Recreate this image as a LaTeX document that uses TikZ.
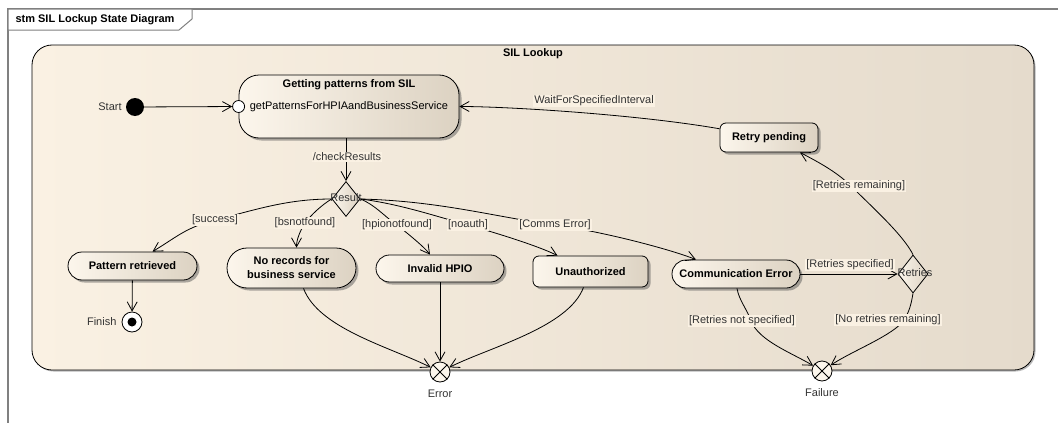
\documentclass[tikz,border=0pt]{standalone}
\usepackage{fontspec}
\setmainfont{Liberation Sans}
\usetikzlibrary{arrows.meta,shapes.geometric,shadows,positioning}
\definecolor{hglinks}{HTML}{FAF1E3}
\definecolor{hgrechts}{HTML}{E5DBCC}
\definecolor{zlinks}{HTML}{FCF6EC}
\definecolor{zrechts}{HTML}{DCD2C2}
\definecolor{rahmengrau}{HTML}{808080}
\definecolor{textgrau}{HTML}{333333}

\begin{document}
\begin{tikzpicture}[x=1pt, y=-1pt,
    font=\fontsize{11}{13}\selectfont,
    schatten/.style={drop shadow={shadow xshift=2.5pt, shadow yshift=-2.5pt, opacity=0.45, fill=black!70}},
    zustand/.style={draw, line width=0.8pt, rounded corners=#1, left color=zlinks, right color=zrechts, schatten, inner sep=0pt, font=\fontsize{11}{14}\selectfont\bfseries, align=center},
    weiche/.style={draw, diamond, line width=0.8pt, inner sep=0pt, left color=zlinks, right color=zrechts},
    austritt/.style={draw, circle, line width=0.8pt, fill=zlinks, minimum size=20pt, inner sep=0pt},
    uebergang/.style={line width=0.8pt, -{Straight Barb[length=9pt, width=10pt]}},
    bedingung/.style={fill=hglinks, inner sep=1pt, text=textgrau},
    beschriftung/.style={inner sep=1pt, text=textgrau}]
	\useasboundingbox (0,0) rectangle (1058,423); % Rand wie Vorlage

	% Rahmen mit Reiter
	\draw[rahmengrau, line width=1.2pt] (8,423) -- (8,9) -- (1058,9);
	\draw[rahmengrau, line width=1pt, fill=white] (8,9) -- (192,9) -- (192,19) -- (179,30) -- (8,30) -- cycle;
	\node[font=\fontsize{11}{13}\selectfont\bfseries, inner sep=0pt] (titel) at (95,19.5) {stm SIL Lockup State Diagram};

	% zusammengesetzter Zustand
	\node[draw, line width=0.8pt, rounded corners=20pt, left color=hglinks, right color=hgrechts,
	      drop shadow={shadow xshift=1.5pt, shadow yshift=-1.5pt, opacity=0.4, fill=black!70},
	      minimum width=1002pt, minimum height=325pt] (lookup) at (533,207.5) {};
	\node[font=\fontsize{11}{13}\selectfont\bfseries, inner sep=0pt, below=4pt of lookup.north] (lookuptitel) {SIL Lookup};

	% Zustaende
	\node[zustand=20pt, minimum width=220pt, minimum height=63pt] (getpat) at (349,106.5) {};
	\node[font=\fontsize{11}{13}\selectfont\bfseries, inner sep=0pt, below=5pt of getpat.north] (getpattitel) {Getting patterns from SIL};
	\node[anchor=west, inner sep=0pt] (getpatop) at ([xshift=11pt]getpat.west) {getPatternsForHPIAandBusinessService};
	\node[zustand=6pt, minimum width=98pt, minimum height=29pt] (retry) at (769,137.5) {Retry pending};
	\node[zustand=14pt, minimum width=129pt, minimum height=28pt] (pattern) at (132.5,266) {Pattern retrieved};
	\node[zustand=20pt, minimum width=129pt, minimum height=40pt] (norec) at (291.5,268) {No records for\\business service};
	\node[zustand=13.5pt, minimum width=128pt, minimum height=27pt] (hpio) at (440,268.5) {Invalid HPIO};
	\node[zustand=6pt, minimum width=115pt, minimum height=31pt] (unauth) at (590.5,271.5) {Unauthorized};
	\node[zustand=14pt, minimum width=128pt, minimum height=28pt] (comm) at (736,274) {Communication Error};

	% Pseudozustaende
	\node[circle, fill=black, minimum size=18pt, inner sep=0pt] (start) at (135,107) {};
	\node[beschriftung, left=3pt of start] (startlbl) {Start};
	\node[circle, draw, line width=0.8pt, fill=white, minimum size=12pt, inner sep=0pt] (entry) at (getpat.west) {};
	\node[weiche, minimum width=28pt, minimum height=35pt] (result) at (346,199) {};
	\node[weiche, minimum width=30pt, minimum height=38pt] (retries) at (913,274) {};
	\node[circle, draw, line width=0.8pt, fill=white, minimum size=20pt, inner sep=0pt] (finish) at (132,322) {};
	\node[circle, fill=black, minimum size=9pt, inner sep=0pt] (finishdot) at (finish) {};
	\node[beschriftung, left=4pt of finish] (finishlbl) {Finish};

	% Austrittspunkte
	\node[austritt] (error) at (440,372) {};
	\draw[line width=0.8pt] (error.45) -- (error.225) (error.135) -- (error.315);
	\node[beschriftung, below=6pt of error] (errorlbl) {Error};
	\node[austritt] (failure) at (822,371) {};
	\draw[line width=0.8pt] (failure.45) -- (failure.225) (failure.135) -- (failure.315);
	\node[beschriftung, below=6pt of failure] (failurelbl) {Failure};

	% Hilfspunkte fuer die Bedingungen
	\coordinate (csuccess) at (215,220);
	\coordinate (cbsnot) at (305,223);
	\coordinate (chpio) at (397,225);
	\coordinate (cnoauth) at (468,225);
	\coordinate (ccomms) at (555,225);
	\coordinate (cremain) at (851,186);
	\coordinate (cnoretry) at (904,320);
	\coordinate (cnotspec) at (751,321);

	% Uebergaenge
	\draw[uebergang] (start) -- (entry);
	\draw[uebergang] (retry.170) .. controls +(-80,-14) and +(50,0) .. (getpat.east);
	\draw[uebergang] (getpat.south -| result) -- (result.north);
	\draw[uebergang] (result.west) .. controls +(-45,0) and +(40,-10) .. (csuccess)
	                 .. controls +(-30,8) and +(25,-15) .. ([xshift=20pt]pattern.north);
	\draw[uebergang] (result.west) .. controls +(-10,6) and +(6,-8) .. (cbsnot)
	                 .. controls +(-5,8) and +(0,-8) .. ([xshift=5pt]norec.north);
	\draw[uebergang] (result.east) .. controls +(15,6) and +(-12,-8) .. (chpio)
	                 .. controls +(10,8) and +(-6,-8) .. ([xshift=-10pt]hpio.north);
	\draw[uebergang] (result.east) .. controls +(40,5) and +(-30,-8) .. (cnoauth)
	                 .. controls +(25,7) and +(-20,-10) .. ([xshift=-33pt]unauth.north);
	\draw[uebergang] (result.east) .. controls +(80,2) and +(-60,-8) .. (ccomms)
	                 .. controls +(50,7) and +(-25,-10) .. ([xshift=-40pt]comm.north);
	\draw[uebergang] (pattern) -- (finish);
	\draw[uebergang] (comm.east) -- (retries.west);
	\draw[uebergang] (retries.north) .. controls +(-10,-20) and +(20,20) .. (cremain)
	                 .. controls +(-15,-15) and +(15,8) .. ([xshift=31pt]retry.south);
	\draw[uebergang] (retries.south) .. controls +(-2,12) and +(5,-8) .. (cnoretry)
	                 .. controls +(-10,15) and +(30,-20) .. (failure);
	\draw[uebergang] ([xshift=1pt]comm.south) .. controls +(2,12) and +(-4,-12) .. (cnotspec)
	                 .. controls +(8,20) and +(-30,-18) .. (failure);
	\draw[uebergang] ([xshift=12pt]norec.south) .. controls +(15,40) and +(-50,-25) .. (error);
	\draw[uebergang] (hpio) -- (error);
	\draw[uebergang] ([xshift=-7pt]unauth.south) .. controls +(-15,40) and +(50,-25) .. (error);

	% Beschriftungen
	\node[beschriftung] (resultlbl) at (346,198) {Result};
	\node[beschriftung] (retrieslbl) at (915,273) {Retries};
	\node[bedingung] (lwait) at (594,101) {WaitForSpecifiedInterval};
	\node[bedingung] (lcheck) at (347,157) {/checkResults};
	\node[bedingung] (lsuccess) at (csuccess) {[success]};
	\node[bedingung] (lbsnot) at (cbsnot) {[bsnotfound]};
	\node[bedingung] (lhpio) at (chpio) {[hpionotfound]};
	\node[bedingung] (lnoauth) at (cnoauth) {[noauth]};
	\node[bedingung] (lcomms) at (ccomms) {[Comms Error]};
	\node[bedingung] (lspec) at (850,265) {[Retries specified]};
	\node[bedingung] (lremain) at (859,186) {[Retries remaining]};
	\node[bedingung] (lnoretry) at (888,320) {[No retries remaining]};
	\node[bedingung] (lnotspec) at (742,321) {[Retries not specified]};
\end{tikzpicture}
\end{document}
